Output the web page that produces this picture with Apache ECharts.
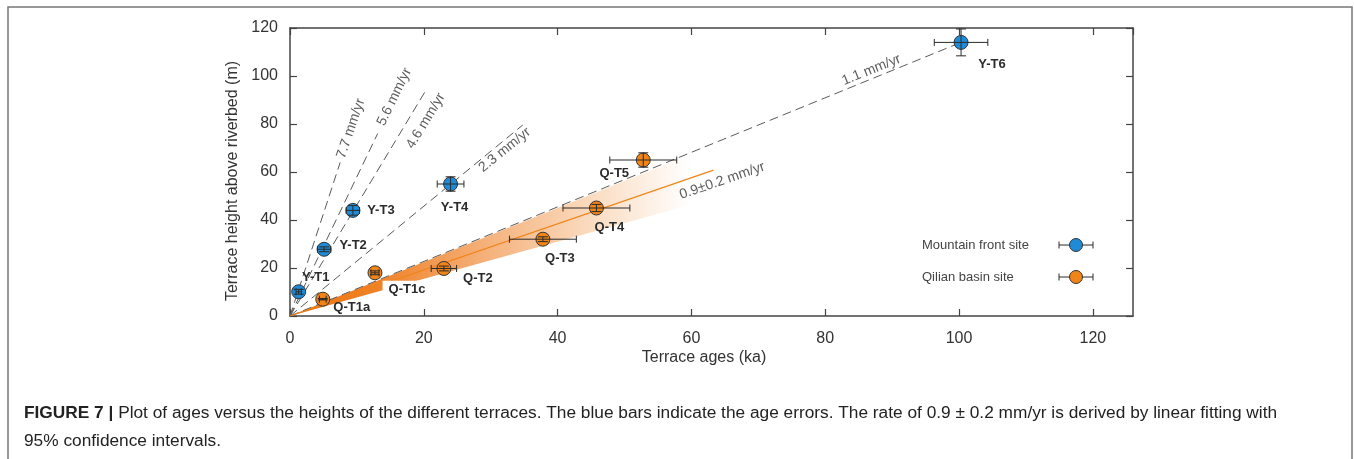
<!DOCTYPE html>
<html><head><meta charset="utf-8">
<script src="https://cdn.jsdelivr.net/npm/echarts@6/dist/echarts.min.js"></script>
<style>html,body{margin:0;padding:0;background:#fff}#c{width:1354px;height:459px}</style>
</head><body><div id="c"></div>
<script>
// ---------- DATA ----------
// Mountain front site
const mfNames = ['Y-T1', 'Y-T2', 'Y-T3', 'Y-T4', 'Y-T6'];
const mfAge = [1.3, 5.1, 9.4, 24.0, 100.3];
const mfHeight = [10.1, 27.8, 44.0, 55.0, 114.0];
const mfAgeErr = [0.4, 1.0, 1.0, 2.0, 4.0];
const mfHeightErr = [1.0, 1.0, 2.0, 3.0, 5.6];
// Qilian basin site
const qbNames = ['Q-T1a', 'Q-T1c', 'Q-T2', 'Q-T3', 'Q-T4', 'Q-T5'];
const qbAge = [4.9, 12.7, 23.0, 37.8, 45.8, 52.8];
const qbHeight = [7.0, 18.0, 19.8, 32.0, 45.0, 65.0];
const qbAgeErr = [0.5, 0.6, 1.9, 5.0, 5.0, 5.0];
const qbHeightErr = [0.3, 0.8, 1.0, 1.0, 1.5, 3.0];
// incision-rate reference lines (drawn from origin to end point)
const rateNames = ['7.7 mm/yr', '5.6 mm/yr', '4.6 mm/yr', '2.3 mm/yr', '1.1 mm/yr'];
const rateEndAge = [7.5, 13.1, 20.25, 34.8, 100.3];
const rateEndHeight = [64, 76, 93.75, 79.6, 114];
// linear fit with 95% confidence band
const fitName = '0.9±0.2 mm/yr';
const fitAge = [0, 63.3];
const fitHeight = [0, 60.8];
const bandAge = [0, 60];
const bandUpper = [0, 67.5];
const bandLower = [0, 46.5];
// axis ticks
const xTicks = [0, 20, 40, 60, 80, 100, 120];
const yTicks = [0, 20, 40, 60, 80, 100, 120];
const xLabel = 'Terrace ages (ka)';
const yLabel = 'Terrace height above riverbed (m)';
const legendNames = ['Mountain front site', 'Qilian basin site'];
const captionBold = 'FIGURE 7 |';
const captionText = ' Plot of ages versus the heights of the different terraces. The blue bars indicate the age errors. The rate of 0.9 ± 0.2 mm/yr is derived by linear fitting with\n95% confidence intervals.';

// ---------- LAYOUT / STYLE ----------
const BLUE = '#1f8bd6', ORANGE = '#f08418', EDGE = '#333';
const FONT = "'Liberation Sans', Arial, sans-serif";
const mfLabelOffset = [[17, -14], [29, -4], [28, 0], [4, 23], [31, 22]];
const qbLabelOffset = [[29, 8], [31, 17], [34, 10], [17, 19], [13, 19], [-29, 13]];
// text anchor positions (data coords) and rotations for rate annotations
const rateLabelPos = [[9.1, 78.1], [15.6, 91.3], [20.3, 81.3], [32.1, 69.2], [86.9, 102.5]];
const rateLabelRot = [71, 64, 59, 39, 22];
const fitLabelPos = [64.6, 56.3];
const fitLabelRot = 19;

const GRID = {left: 290, right: 221, top: 28, bottom: 143};

function errorSeries(ages, heights, aErr, hErr) {
  return {
    type: 'custom', z: 6, silent: true,
    xAxisIndex: 0, yAxisIndex: 0,
    data: ages.map((a, i) => [a, heights[i], aErr[i], hErr[i]]),
    renderItem(params, api) {
      const x = api.value(0), y = api.value(1), ex = api.value(2), ey = api.value(3);
      const c = api.coord([x, y]);
      const l = api.coord([x - ex, y])[0], r = api.coord([x + ex, y])[0];
      const t = api.coord([x, y + ey])[1], b = api.coord([x, y - ey])[1];
      const hc = 3.5, vc = 5;
      const st = {stroke: '#2a2a2a', lineWidth: 1};
      const ch = [
        {type: 'line', shape: {x1: l, y1: c[1], x2: r, y2: c[1]}, style: st},
        {type: 'line', shape: {x1: l, y1: c[1] - hc, x2: l, y2: c[1] + hc}, style: st},
        {type: 'line', shape: {x1: r, y1: c[1] - hc, x2: r, y2: c[1] + hc}, style: st}
      ];
      if (ey > 0) {
        ch.push({type: 'line', shape: {x1: c[0], y1: t, x2: c[0], y2: b}, style: st});
        ch.push({type: 'line', shape: {x1: c[0] - vc, y1: t, x2: c[0] + vc, y2: t}, style: st});
        ch.push({type: 'line', shape: {x1: c[0] - vc, y1: b, x2: c[0] + vc, y2: b}, style: st});
      }
      return {type: 'group', children: ch};
    }
  };
}

function pointSeries(names, ages, heights, color, offsets, whiteBg) {
  return {
    type: 'scatter', z: 5, symbol: 'circle', symbolSize: 14,
    itemStyle: {color: color, borderColor: EDGE, borderWidth: 1, opacity: 1},
    data: ages.map((a, i) => {
      const d = {value: [a, heights[i]], name: names[i],
        label: {show: true, position: 'inside', offset: offsets[i], formatter: names[i],
          fontFamily: FONT, fontWeight: 'bold', fontSize: 13, color: '#2b2b2b',
          align: 'center', verticalAlign: 'middle'}};
      if (whiteBg && names[i] === 'Q-T1c') {
        d.label.backgroundColor = '#fff';
        d.label.padding = [3, 4, 2, 6];
      }
      return d;
    })
  };
}

const series = [];
// confidence band
series.push({
  type: 'custom', z: 1, silent: true,
  data: [[0, 0]],
  renderItem(params, api) {
    const pts = [];
    for (let i = 0; i < bandAge.length; i++) pts.push(api.coord([bandAge[i], bandUpper[i]]));
    for (let i = bandAge.length - 1; i >= 0; i--) pts.push(api.coord([bandAge[i], bandLower[i]]));
    return {type: 'polygon', shape: {points: pts}, style: {
      fill: new echarts.graphic.LinearGradient(0, 0, 1, 0, [
        {offset: 0, color: '#ec6e0c'},
        {offset: 0.22, color: '#ef8228'},
        {offset: 0.5, color: '#f5b37e'},
        {offset: 0.78, color: '#fbe0c8'},
        {offset: 1, color: '#ffffff'}
      ])}};
  }
});
// rate lines
rateNames.forEach((n, i) => {
  series.push({type: 'line', z: 2, silent: true, symbol: 'none',
    data: [[0, 0], [rateEndAge[i], rateEndHeight[i]]],
    lineStyle: {color: '#5a5a5a', width: 1, type: [9, 5]}});
});
// fit line
series.push({type: 'line', z: 3, silent: true, symbol: 'none',
  data: fitAge.map((a, i) => [a, fitHeight[i]]),
  lineStyle: {color: '#f08418', width: 1.2}});
// rate labels
series.push({type: 'scatter', z: 4, silent: true, symbolSize: 1,
  itemStyle: {color: 'transparent'},
  data: rateNames.map((n, i) => ({value: rateLabelPos[i],
    label: {show: true, position: 'inside', formatter: n, rotate: rateLabelRot[i],
      fontFamily: FONT, fontSize: 14, color: '#333', align: 'center', verticalAlign: 'middle'}}))
    .concat([{value: fitLabelPos, label: {show: true, position: 'inside', formatter: fitName, rotate: fitLabelRot,
      fontFamily: FONT, fontSize: 14, color: '#333', align: 'center', verticalAlign: 'middle'}}])
});
series.push(pointSeries(mfNames, mfAge, mfHeight, BLUE, mfLabelOffset, false));
series.push(pointSeries(qbNames, qbAge, qbHeight, ORANGE, qbLabelOffset, true));
series.push(errorSeries(mfAge, mfHeight, mfAgeErr, mfHeightErr));
series.push(errorSeries(qbAge, qbHeight, qbAgeErr, qbHeightErr));

const axisCommon = {
  axisLine: {show: true, onZero: false, lineStyle: {color: '#444', width: 1.5}},
  axisTick: {show: true, inside: true, length: 7, lineStyle: {color: '#444', width: 1.2}},
  splitLine: {show: false}
};
const labelStyle = {fontFamily: FONT, fontSize: 16, color: '#333'};

function legendItem(y, color, text) {
  const cx = 1076, l = 1059, r = 1093;
  const st = {stroke: '#2a2a2a', lineWidth: 1};
  return [
    {type: 'text', x: 922, y: y, style: {text: text, font: '13px ' + FONT, fill: '#444', verticalAlign: 'middle'}},
    {type: 'line', shape: {x1: l, y1: y, x2: r, y2: y}, style: st},
    {type: 'line', shape: {x1: l, y1: y - 3.5, x2: l, y2: y + 3.5}, style: st},
    {type: 'line', shape: {x1: r, y1: y - 3.5, x2: r, y2: y + 3.5}, style: st},
    {type: 'circle', shape: {cx: cx, cy: y, r: 6.5}, style: {fill: color, stroke: EDGE, lineWidth: 1}}
  ];
}

const option = {
  animation: false,
  backgroundColor: '#fff',
  grid: GRID,
  xAxis: [
    Object.assign({type: 'value', min: 0, max: 126, interval: 20, position: 'bottom',
      axisLabel: Object.assign({margin: 15, showMaxLabel: false,
        formatter: v => xTicks.includes(v) ? String(v) : ''}, labelStyle)}, axisCommon),
    Object.assign({type: 'value', min: 0, max: 126, interval: 20, position: 'top',
      axisLabel: {show: false}}, axisCommon)
  ],
  yAxis: [
    Object.assign({type: 'value', min: 0, max: 120, interval: 20, position: 'left',
      axisLabel: Object.assign({margin: 12, formatter: v => yTicks.includes(v) ? String(v) : ''}, labelStyle)}, axisCommon),
    Object.assign({type: 'value', min: 0, max: 120, interval: 20, position: 'right',
      axisLabel: {show: false}}, axisCommon)
  ],
  series: series,
  graphic: [
    {type: 'rect', shape: {x: 8, y: 7, width: 1344, height: 520}, style: {fill: 'none', stroke: '#777', lineWidth: 1.5}, silent: true},
    {type: 'text', x: 704, y: 358, style: {text: xLabel, font: '16px ' + FONT, fill: '#333', align: 'center', verticalAlign: 'middle'}},
    {type: 'text', x: 233, y: 181, rotation: Math.PI / 2, style: {text: yLabel, font: '16px ' + FONT, fill: '#333', align: 'center', verticalAlign: 'middle'}},
    ...legendItem(245, BLUE, legendNames[0]),
    ...legendItem(277, ORANGE, legendNames[1]),
    {type: 'text', x: 24, y: 399, style: {
      text: '{b|' + captionBold + '}' + captionText,
      font: '17.3px ' + FONT, fill: '#222', lineHeight: 28,
      rich: {b: {fontWeight: 'bold', fontSize: 17.3, fontFamily: FONT, lineHeight: 28, fill: '#222'}}}}
  ]
};
const chart = echarts.init(document.getElementById('c'), null, {renderer: 'canvas'});
chart.setOption(option);
</script></body></html>
